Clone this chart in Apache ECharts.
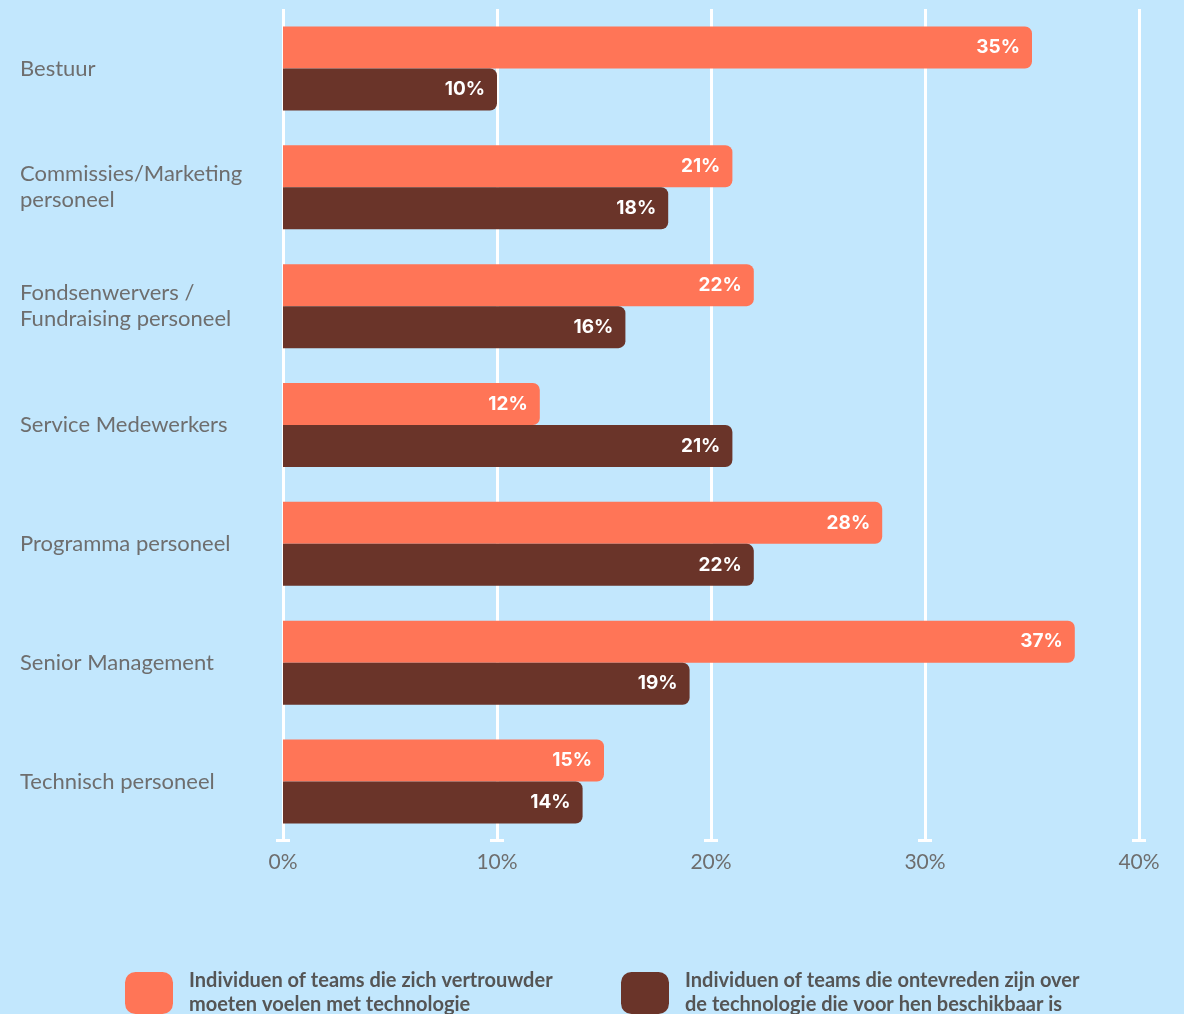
<!DOCTYPE html>
<html>
<head>
<meta charset="utf-8">
<style>
  html, body { margin: 0; padding: 0; background: #C2E7FD; }
  #chart { width: 1184px; height: 1014px; }
</style>
<script src="https://cdn.jsdelivr.net/npm/echarts@6/dist/echarts.min.js"></script>
</head>
<body>
<div id="chart"></div>
<script>
// Role groups (top to bottom)
const categories = [
  'Bestuur',
  'Commissies/Marketing\npersoneel',
  'Fondsenwervers /\nFundraising personeel',
  'Service Medewerkers',
  'Programma personeel',
  'Senior Management',
  'Technisch personeel'
];

// Series names
const nameConfident = 'Individuen of teams die zich vertrouwder\nmoeten voelen met technologie';
const nameDissatisfied = 'Individuen of teams die ontevreden zijn over\nde technologie die voor hen beschikbaar is';

// Percentages per group
const confidentValues = [35, 21, 22, 12, 28, 37, 15];
const dissatisfiedValues = [10, 18, 16, 21, 22, 19, 14];

// Axis ticks (percent)
const xTicks = [0, 10, 20, 30, 40];

const ORANGE = '#FF7557';
const BROWN = '#6A3429';
const BG = '#C2E7FD';

const chart = echarts.init(document.getElementById('chart'));

const barLabel = {
  show: true,
  position: 'insideRight',
  distance: 12,
  formatter: '{c}%',
  color: '#ffffff',
  fontFamily: 'Inter',
  fontWeight: 'bold',
  fontSize: 19
};

const legendText = {
  color: '#555555',
  fontFamily: 'Lato',
  fontWeight: 'bold',
  fontSize: 20,
  lineHeight: 24,
  padding: [0, 0, 0, 11]
};

chart.setOption({
  backgroundColor: BG,
  animation: false,
  grid: { left: 283, right: 45, top: 9, height: 832, containLabel: false },
  xAxis: {
    type: 'value',
    min: xTicks[0],
    max: xTicks[xTicks.length - 1],
    interval: 10,
    axisLine: { show: false },
    axisTick: { show: false },
    splitLine: { show: true, lineStyle: { color: '#ffffff', width: 3 } },
    axisLabel: {
      formatter: '{value}%',
      color: '#6e6e6e',
      fontFamily: 'Lato',
      fontSize: 21,
      margin: 11
    }
  },
  yAxis: {
    type: 'category',
    data: categories,
    inverse: true,
    axisLine: { show: false },
    axisTick: { show: false },
    splitLine: { show: false },
    axisLabel: {
      align: 'left',
      margin: 263,
      color: '#6e6e6e',
      fontFamily: 'Lato',
      fontSize: 22,
      lineHeight: 26
    }
  },
  legend: [
    {
      data: [nameConfident],
      left: 125,
      top: 969,
      padding: 0,
      itemWidth: 48,
      itemHeight: 42,
      icon: 'roundRect',
      itemGap: 0,
      selectedMode: false,
      textStyle: legendText
    },
    {
      data: [nameDissatisfied],
      left: 621,
      top: 969,
      padding: 0,
      itemWidth: 48,
      itemHeight: 42,
      icon: 'roundRect',
      itemGap: 0,
      selectedMode: false,
      textStyle: legendText
    }
  ],
  series: [
    {
      name: nameConfident,
      type: 'bar',
      data: confidentValues,
      barWidth: 42,
      barGap: '0%',
      itemStyle: { color: ORANGE, borderRadius: [0, 7, 7, 0] },
      label: barLabel
    },
    {
      name: nameDissatisfied,
      type: 'bar',
      data: dissatisfiedValues,
      barWidth: 42,
      barGap: '0%',
      itemStyle: { color: BROWN, borderRadius: [0, 7, 7, 0] },
      label: barLabel
    },
    {
      // short horizontal caps at the foot of each gridline
      type: 'custom',
      silent: true,
      z: 1,
      data: xTicks.map(t => [t, 0]),
      encode: { x: 0, y: 1 },
      renderItem: function (params, api) {
        const x = api.coord([api.value(0), 0])[0];
        const cs = params.coordSys;
        const yb = cs.y + cs.height;
        return {
          type: 'rect',
          shape: { x: x - 7, y: yb - 2, width: 14, height: 3 },
          style: { fill: '#ffffff' }
        };
      }
    }
  ]
});
</script>
</body>
</html>
